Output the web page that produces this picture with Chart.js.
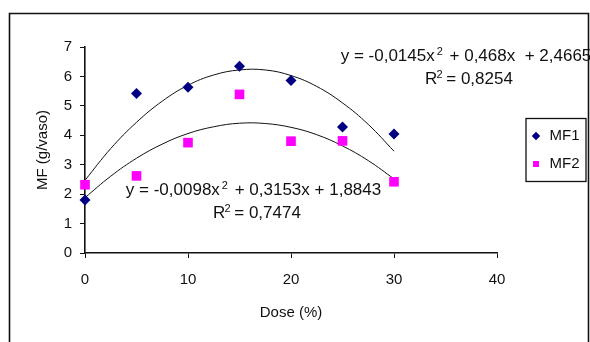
<!DOCTYPE html>
<html>
<head>
<meta charset="utf-8">
<script src="https://cdn.jsdelivr.net/npm/chart.js@4"></script>
<style>
html,body{margin:0;padding:0;background:#fff;}
#wrap{width:590px;height:342px;}
</style>
</head>
<body>
<div id="wrap"><canvas id="c" width="590" height="342"></canvas></div>
<script>
// ---- data ----
const doses = [0, 5, 10, 15, 20, 25, 30];
const mf1 = [1.8, 5.42, 5.63, 6.35, 5.86, 4.28, 4.04];
const mf2 = [2.32, 2.62, 3.75, 5.39, 3.8, 3.81, 2.42];
// trend curves as drawn
const trendX = [0, 2.5, 5, 7.5, 10, 12.5, 15, 17.5, 20, 22.5, 25, 27.5, 30];
const trend1 = [2.47, 3.55, 4.44, 5.16, 5.70, 6.05, 6.22, 6.22, 6.03, 5.66, 5.10, 4.37, 3.46];
const trend2 = [1.88, 2.61, 3.22, 3.70, 4.06, 4.29, 4.41, 4.40, 4.27, 4.02, 3.64, 3.14, 2.52];
const xTicks = [0, 10, 20, 30, 40];
const yTicks = [0, 1, 2, 3, 4, 5, 6, 7];
const seriesNames = ['MF1', 'MF2'];
const eq1 = [['y = -0,0145x', false], ['2', true], [' + 0,468x  + 2,4665', false]];
const r1 = [['R', false], ['2', true], [' = 0,8254', false]];
const eq2 = [['y = -0,0098x', false], ['2', true], [' + 0,3153x + 1,8843', false]];
const r2 = [['R', false], ['2', true], [' = 0,7474', false]];
const xTitle = 'Dose (%)';
const yTitle = 'MF (g/vaso)';

function hasFont(name) {
  const c = document.createElement('canvas').getContext('2d');
  c.font = '40px monospace';
  const a = c.measureText('MMMwwwiii,,,').width;
  c.font = '40px "' + name + '", monospace';
  return Math.abs(c.measureText('MMMwwwiii,,,').width - a) > 0.5;
}
const NARROW = hasFont('Liberation Sans Narrow');
const AX_FAMILY = NARROW ? '"Liberation Sans Narrow", "Liberation Sans", Arial, sans-serif' : '"Liberation Sans", Arial, sans-serif';
const AX_SIZE = NARROW ? 17 : 15;
const EQ_FAMILY = '"Liberation Sans", Arial, sans-serif';
const axFont = {family: AX_FAMILY, size: AX_SIZE};
const axLH = AX_SIZE * 1.2;

// legend geometry
const LG_PAD = 28 - AX_SIZE;
const LG_BOX = 12;
const mctx = document.createElement('canvas').getContext('2d');
mctx.font = AX_SIZE + 'px ' + AX_FAMILY;
const lgTextW = Math.max(mctx.measureText('MF1').width, mctx.measureText('MF2').width);
const lgWidth = LG_PAD + LG_BOX + AX_SIZE / 2 + lgTextW;
const padRight = Math.max(0, 590 - 497 - 10 - lgWidth);

const pts = (xs, ys) => xs.map((x, i) => ({x: x, y: ys[i]}));

const decor = {
  id: 'decor',
  afterLayout(chart) {
    const lg = chart.legend;
    if (lg) {
      const dx = (530 - LG_PAD) - lg.left;
      lg.left += dx; lg.right += dx;
    }
  },
  afterDraw(chart) {
    const ctx = chart.ctx;
    ctx.save();
    // outer frame
    ctx.strokeStyle = '#111';
    ctx.lineWidth = 1.6;
    ctx.beginPath();
    ctx.moveTo(9.5, 345); ctx.lineTo(9.5, 13.5); ctx.lineTo(588.5, 13.5); ctx.lineTo(588.5, 345);
    ctx.stroke();
    // legend frame
    ctx.lineWidth = 1.3;
    ctx.strokeRect(526, 118.5, 60, 63);
    // equations
    ctx.fillStyle = '#111';
    ctx.textBaseline = 'alphabetic';
    ctx.textAlign = 'left';
    const MAIN = 17, SUP = 11;
    const drawEq = (parts, cx, cy, supGap) => {
      let w = 0;
      parts.forEach(p => { ctx.font = (p[1] ? SUP : MAIN) + 'px ' + EQ_FAMILY; w += ctx.measureText(p[0]).width + (p[1] ? supGap * 2 : 0); });
      let x = cx - w / 2;
      const base = cy + 0.358 * MAIN;
      parts.forEach(p => {
        ctx.font = (p[1] ? SUP : MAIN) + 'px ' + EQ_FAMILY;
        if (p[1]) { ctx.fillText(p[0], x + supGap, base - 6); x += ctx.measureText(p[0]).width + supGap * 2; }
        else { ctx.fillText(p[0], x, base); x += ctx.measureText(p[0]).width; }
      });
    };
    drawEq(eq1, 466, 55, 2);
    drawEq(r1, 469, 78, -1);
    drawEq(eq2, 253.5, 189, 2);
    drawEq(r2, 257, 212, -1);
    ctx.restore();
  }
};

new Chart(document.getElementById('c'), {
  type: 'scatter',
  data: {
    datasets: [
      {label: seriesNames[0], data: pts(doses, mf1), pointStyle: 'rectRot', pointRadius: 5.5,
       backgroundColor: '#000080', borderColor: '#000080', borderWidth: 0, order: 0, clip: false},
      {label: seriesNames[1], data: pts(doses, mf2), pointStyle: 'rect', pointRadius: 6.8,
       backgroundColor: '#ff00ff', borderColor: '#ff00ff', borderWidth: 0, order: 0, clip: false},
      {label: 't1', data: pts(trendX, trend1), showLine: true, pointRadius: 0, borderColor: '#111',
       borderWidth: 1, tension: 0.4, order: 1},
      {label: 't2', data: pts(trendX, trend2), showLine: true, pointRadius: 0, borderColor: '#111',
       borderWidth: 1, tension: 0.4, order: 1}
    ]
  },
  options: {
    responsive: false,
    animation: false,
    devicePixelRatio: 1,
    layout: {padding: {left: 0, top: 47, right: padRight, bottom: 0}},
    plugins: {
      tooltip: {enabled: false},
      legend: {
        position: 'right',
        fullSize: false,
        labels: {
          filter: (item) => seriesNames.includes(item.text),
          usePointStyle: true,
          boxWidth: LG_BOX,
          boxHeight: 6,
          padding: LG_PAD,
          color: '#111',
          font: axFont
        }
      }
    },
    scales: {
      x: {
        type: 'linear', min: 0, max: 40,
        afterFit: s => { s.height = 89; },
        afterBuildTicks: s => { s.ticks = xTicks.map(v => ({value: v})); },
        grid: {display: true, drawOnChartArea: false, drawTicks: true, tickLength: 5, color: '#111', lineWidth: 1},
        border: {display: true, color: '#111', width: 1.6},
        ticks: {color: '#111', padding: 13 - (axLH - 16.8) / 2, font: axFont, maxRotation: 0},
        title: {display: true, text: xTitle, color: '#111', font: axFont, padding: {top: 0, bottom: 342 - 313 - axLH / 2}}
      },
      y: {
        type: 'linear', min: 0, max: 7,
        afterFit: s => { s.width = 85; },
        afterBuildTicks: s => { s.ticks = yTicks.map(v => ({value: v})); },
        grid: {display: true, drawOnChartArea: false, drawTicks: true, tickLength: 5, color: '#111', lineWidth: 1},
        border: {display: true, color: '#111', width: 1.6},
        ticks: {color: '#111', padding: 8, font: axFont},
        title: {display: true, text: yTitle, color: '#111', font: axFont, padding: {top: 43 - axLH / 2, bottom: 0}}
      }
    }
  },
  plugins: [decor]
});
</script>
</body>
</html>
